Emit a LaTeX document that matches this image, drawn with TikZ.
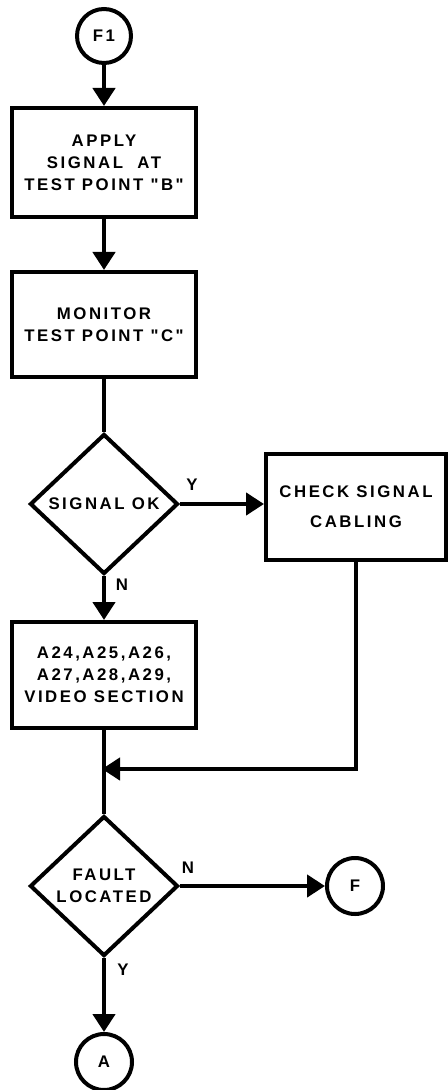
\documentclass[tikz,border=0pt]{standalone}
\usepackage{fontspec}
\newfontfamily\lblfont{Liberation Sans}[LetterSpace=15]
\usetikzlibrary{arrows.meta,shapes.geometric}
\tikzset{
  txt/.style={font=\lblfont\bfseries\fontsize{8.4}{11}\selectfont, align=center},
  stepbox/.style={draw, line width=2pt, rectangle, inner sep=0pt, txt},
  decision/.style={draw, line width=2pt, diamond, inner sep=0pt, minimum width=74pt, minimum height=70pt, txt},
  conn/.style={draw, line width=2pt, circle, inner sep=0pt, minimum size=27pt, txt},
  wire/.style={line width=2.2pt},
  arr/.style={wire, -{Triangle[width=11pt,length=9pt]}},
  yn/.style={txt, inner sep=0pt}
}
\begin{document}
\begin{tikzpicture}[x=0.5pt,y=-0.5pt]
\useasboundingbox (0,0) rectangle (448,1090);
\node[conn] (f1) at (104,36) {F1};
\node[stepbox, minimum width=92pt, minimum height=54.5pt] (b1) at (104,162.5) {APPLY\\SIGNAL\ \ AT\\TEST POINT "B"};
\node[stepbox, minimum width=92pt, minimum height=52.5pt] (b2) at (104,324.5) {MONITOR\\TEST POINT "C"};
\node[decision] (d1) at (104,504) {SIGNAL OK};
\node[stepbox, minimum width=90pt, minimum height=53pt] (b3) at (356,507) {CHECK SIGNAL\\[4pt]CABLING};
\node[stepbox, minimum width=92pt, minimum height=53pt] (b4) at (104,675) {A24,A25,A26,\\A27,A28,A29,\\VIDEO SECTION};
\node[decision] (d2) at (104,886) {FAULT\\LOCATED};
\node[conn, minimum size=28pt] (cf) at (355,886) {F};
\node[conn, minimum size=28pt] (ca) at (104,1062) {A};
\coordinate (m) at (102,769);
\node[yn] (ly1) at (192,485) {Y};
\node[yn] (ln1) at (122,585) {N};
\node[yn] (ln2) at (188,868) {N};
\node[yn] (ly2) at (123,970) {Y};
\draw[arr] (f1) -- (b1);
\draw[arr] (b1) -- (b2);
\draw[wire] (b2) -- (d1);
\draw[arr] (d1.east) -- (d1.east -| b3.west);
\draw[arr] (d1) -- (b4);
\draw[wire] (b4) -- (d2);
\draw[arr] (b3.south) |- (m);
\draw[arr] (d2) -- (cf);
\draw[arr] (d2) -- (ca);
\end{tikzpicture}
\end{document}
